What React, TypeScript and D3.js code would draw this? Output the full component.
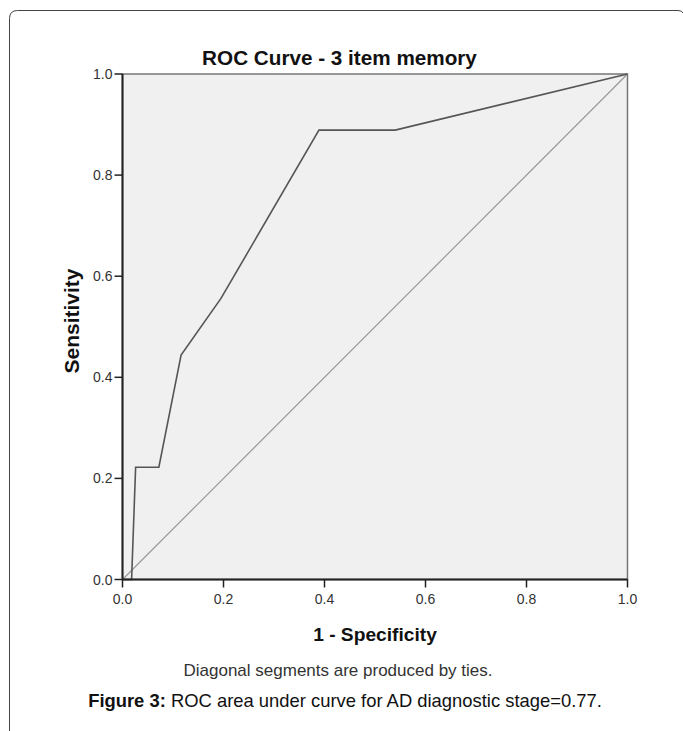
import React from "react";
import * as d3 from "d3";

const fpr = [0, 0.018, 0.026, 0.072, 0.116, 0.195, 0.389, 0.54, 1];
const tpr = [0, 0, 0.222, 0.222, 0.444, 0.556, 0.889, 0.889, 1];
const ticks = [0, 0.2, 0.4, 0.6, 0.8, 1.0];
const tickLabels = ["0.0", "0.2", "0.4", "0.6", "0.8", "1.0"];

const W = 683, H = 731;
const left = 122.5, right = 627.5, top = 74, bottom = 579.5;

export default function App() {
  const x = d3.scaleLinear().domain([0, 1]).range([left, right]);
  const y = d3.scaleLinear().domain([0, 1]).range([bottom, top]);
  const pts: [number, number][] = fpr.map((f, i) => [f, tpr[i]]);
  const line = d3.line<[number, number]>().x(d => x(d[0])).y(d => y(d[1]));
  const font = "'Liberation Sans', Arial, sans-serif";
  return (
    <svg width={W} height={H} style={{ position: "absolute", left: 0, top: 0 }} fontFamily={font}>
      <rect x={0} y={0} width={W} height={H} fill="#fff" />
      <path d={`M9.5,${H + 5} L9.5,18.5 Q9.5,10.5 17.5,10.5 L678,10.5 Q682,10.5 683,13`} fill="none" stroke="#444" strokeWidth={1} />
      <text x={339.5} y={65} textAnchor="middle" fontSize={20.7} fontWeight="bold" fill="#111">ROC Curve - 3 item memory</text>
      <rect x={left} y={top} width={right - left} height={bottom - top} fill="#f0f0f0" stroke="#777" strokeWidth={1.5} />
      <line x1={x(0)} y1={y(0)} x2={x(1)} y2={y(1)} stroke="#999" strokeWidth={1.2} />
      <path d={line(pts) || ""} fill="none" stroke="#555" strokeWidth={1.6} />
      <line x1={left} y1={top} x2={left} y2={bottom} stroke="#222" strokeWidth={2} />
      <line x1={left} y1={bottom} x2={right} y2={bottom} stroke="#222" strokeWidth={2} />
      {ticks.map((t, i) => (
        <g key={"x" + i}>
          <line x1={x(t)} y1={bottom} x2={x(t)} y2={bottom + 8} stroke="#222" strokeWidth={1.5} />
          <text x={x(t)} y={bottom + 24.5} textAnchor="middle" fontSize={14} fill="#333">{tickLabels[i]}</text>
        </g>
      ))}
      {ticks.map((t, i) => (
        <g key={"y" + i}>
          <line x1={left - 8} y1={y(t)} x2={left} y2={y(t)} stroke="#222" strokeWidth={1.5} />
          <text x={left - 10} y={y(t) + 5} textAnchor="end" fontSize={14} fill="#333">{tickLabels[i]}</text>
        </g>
      ))}
      <text x={375} y={641} textAnchor="middle" fontSize={19.2} fontWeight="bold" fill="#111">1 - Specificity</text>
      <text transform={`translate(79,321) rotate(-90)`} textAnchor="middle" fontSize={21} fontWeight="bold" fill="#111">Sensitivity</text>
      <text x={338} y={676} textAnchor="middle" fontSize={17} fill="#333">Diagonal segments are produced by ties.</text>
      <text x={345} y={707} textAnchor="middle" fontSize={18.4} fill="#111">
        <tspan fontWeight="bold">Figure 3:</tspan> ROC area under curve for AD diagnostic stage=0.77.
      </text>
    </svg>
  );
}
